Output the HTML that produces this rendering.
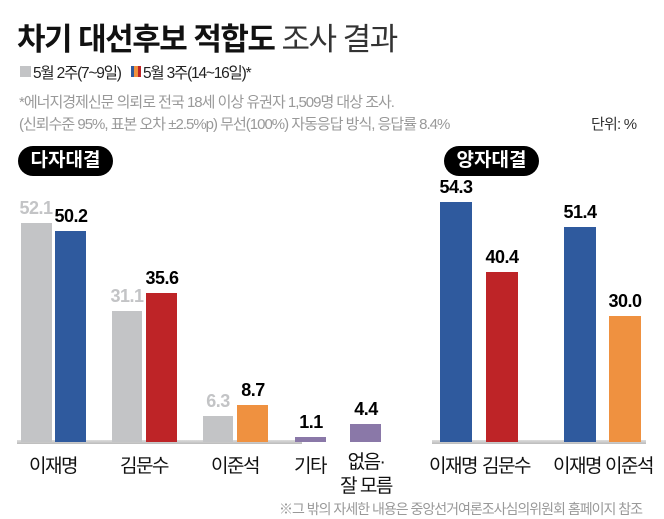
<!DOCTYPE html>
<html><head><meta charset="utf-8"><style>
body{margin:0;width:664px;height:519px;background:#fff;position:relative;overflow:hidden;font-family:"Liberation Sans","Noto Sans CJK KR",sans-serif;}
.a{position:absolute;white-space:nowrap;}
.b{position:absolute;}
.v{position:absolute;font-weight:bold;font-size:18px;text-align:center;width:60px;letter-spacing:-0.5px;}
.g{color:#c3c4c6;}
.l{position:absolute;font-size:19px;text-align:center;width:90px;color:#111;letter-spacing:-1.5px;}
.pill{position:absolute;background:#000;color:#fff;font-weight:bold;font-size:19px;border-radius:15px;height:30px;line-height:30px;text-align:center;}
</style></head><body>
<div class="a" style="left:17px;top:14px;font-size:31px;font-weight:bold;letter-spacing:-1.5px;color:#111;">차기 대선후보 적합도 <span style="font-weight:normal;color:#333">조사 결과</span></div>
<div class="b" style="left:20px;top:66px;width:11px;height:11px;background:#c3c4c6"></div>
<div class="a" style="left:33px;top:61px;font-size:15.5px;color:#222;letter-spacing:-1.2px">5월 2주(7~9일)</div>
<div class="b" style="left:131px;top:66px;width:3px;height:11px;background:#2f5a9e"></div>
<div class="b" style="left:134px;top:66px;width:4px;height:11px;background:#ef9140"></div>
<div class="b" style="left:138px;top:66px;width:3px;height:11px;background:#be2427"></div>
<div class="a" style="left:143px;top:61px;font-size:15.5px;color:#222;letter-spacing:-1.2px">5월 3주(14~16일)*</div>
<div class="a" style="left:19px;top:91px;font-size:15px;color:#999;letter-spacing:-1px">*에너지경제신문 의뢰로 전국 18세 이상 유권자 1,509명 대상 조사.</div>
<div class="a" style="left:19px;top:113px;font-size:15px;color:#999;letter-spacing:-1px">(신뢰수준 95%, 표본 오차 ±2.5%p) 무선(100%) 자동응답 방식, 응답률 8.4%</div>
<div class="a" style="left:591px;top:113px;font-size:15px;color:#333;letter-spacing:-0.8px">단위: %</div>
<div class="pill" style="left:18px;top:146px;width:95px">다자대결</div>
<div class="pill" style="left:444px;top:146px;width:95px;">양자대결</div>
<div class="b" style="left:17px;top:440px;width:285px;height:4px;background:linear-gradient(#ddd,#bbb)"></div>
<div class="b" style="left:432px;top:440px;width:214px;height:4px;background:linear-gradient(#ddd,#bbb)"></div>
<div class="b" style="left:21px;top:223px;width:31px;height:219px;background:#c3c4c6"></div>
<div class="b" style="left:55px;top:231px;width:31px;height:211px;background:#2f5a9e"></div>
<div class="b" style="left:112px;top:311px;width:30px;height:131px;background:#c3c4c6"></div>
<div class="b" style="left:146px;top:293px;width:31px;height:149px;background:#be2427"></div>
<div class="b" style="left:203px;top:416px;width:30px;height:26px;background:#c3c4c6"></div>
<div class="b" style="left:237px;top:405px;width:31px;height:37px;background:#ef9140"></div>
<div class="b" style="left:295px;top:437px;width:31px;height:5px;background:#8a78a8"></div>
<div class="b" style="left:350px;top:424px;width:31px;height:18px;background:#8a78a8"></div>
<div class="v g" style="left:6px;top:198px">52.1</div>
<div class="v" style="left:41px;top:206px">50.2</div>
<div class="v g" style="left:97px;top:286px">31.1</div>
<div class="v" style="left:132px;top:268px">35.6</div>
<div class="v g" style="left:188px;top:391px">6.3</div>
<div class="v" style="left:223px;top:380px">8.7</div>
<div class="v" style="left:281px;top:412px">1.1</div>
<div class="v" style="left:336px;top:399px">4.4</div>
<div class="b" style="left:440px;top:202px;width:32px;height:240px;background:#2f5a9e"></div>
<div class="b" style="left:486px;top:272px;width:32px;height:170px;background:#be2427"></div>
<div class="b" style="left:564px;top:227px;width:32px;height:215px;background:#2f5a9e"></div>
<div class="b" style="left:609px;top:316px;width:32px;height:126px;background:#ef9140"></div>
<div class="v" style="left:426px;top:177px">54.3</div>
<div class="v" style="left:472px;top:247px">40.4</div>
<div class="v" style="left:550px;top:202px">51.4</div>
<div class="v" style="left:595px;top:291px">30.0</div>
<div class="l" style="left:8px;top:451px">이재명</div>
<div class="l" style="left:99px;top:451px">김문수</div>
<div class="l" style="left:190px;top:451px">이준석</div>
<div class="l" style="left:265px;top:451px">기타</div>
<div class="l" style="left:321px;top:451px;line-height:24px">없음·<br>잘 모름</div>
<div class="l" style="left:408px;top:451px">이재명</div>
<div class="l" style="left:461px;top:451px">김문수</div>
<div class="l" style="left:532px;top:451px">이재명</div>
<div class="l" style="left:584px;top:451px">이준석</div>
<div class="a" style="right:22px;top:499px;font-size:14px;color:#999;letter-spacing:-1px">※그 밖의 자세한 내용은 중앙선거여론조사심의위원회 홈페이지 참조</div>
</body></html>
